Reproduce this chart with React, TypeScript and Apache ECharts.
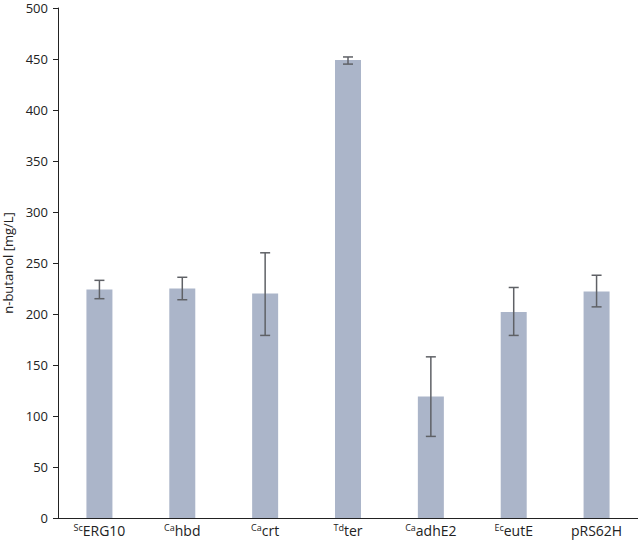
import React, { useEffect, useRef } from "react";
import * as echarts from "echarts";

const prefixes = ["Sc", "Ca", "Ca", "Td", "Ca", "Ec", ""];
const names = ["ERG10", "hbd", "crt", "ter", "adhE2", "eutE", "pRS62H"];
const values = [224, 225, 220, 449, 119, 202, 222];
const errLow = [215, 214, 179, 445, 80, 179, 207];
const errHigh = [233, 236, 260, 452, 158, 226, 238];
const yTicks = { min: 0, max: 500, interval: 50 };

const FONT = "'Open Sans', 'Liberation Sans', sans-serif";

export default function App() {
  const ref = useRef<HTMLDivElement>(null);
  useEffect(() => {
    if (!ref.current) return;
    const chart = echarts.init(ref.current, undefined, { renderer: "svg" });
    const cats = names.map((n, i) => `${prefixes[i]}|${n}`);
    chart.setOption({
      animation: false,
      grid: { left: 58, right: 0, top: 8, bottom: 26, containLabel: false, outerBoundsMode: "none" },
      xAxis: {
        type: "category",
        data: cats,
        axisLine: { lineStyle: { color: "#222", width: 1 } },
        axisTick: { show: false },
        axisLabel: {
          margin: 5,
          interval: 0,
          formatter: (v: string) => {
            const [p, n] = v.split("|");
            return p ? `{sup|${p}}{base|${n}}` : `{base|${n}}`;
          },
          rich: {
            base: { fontFamily: FONT, fontSize: 14, color: "#222", lineHeight: 15 },
            sup: { fontFamily: FONT, fontSize: 9, color: "#222", lineHeight: 15, verticalAlign: "top" },
          },
        },
      },
      yAxis: {
        type: "value",
        min: yTicks.min,
        max: yTicks.max,
        interval: yTicks.interval,
        name: "n-butanol [mg/L]",
        nameLocation: "middle",
        nameRotate: 90,
        nameGap: 32,
        nameTextStyle: { fontFamily: FONT, fontSize: 13, lineHeight: 14, color: "#222" },
        axisLine: { show: true, lineStyle: { color: "#222", width: 1 } },
        axisTick: { show: true, inside: false, length: 5, lineStyle: { color: "#222" } },
        axisLabel: { margin: 10, fontFamily: FONT, fontSize: 13, lineHeight: 12, color: "#222" },
        splitLine: { show: false },
      },
      series: [
        {
          type: "bar",
          data: values,
          barWidth: 26,
          itemStyle: { color: "#abb5c9" },
        },
        {
          type: "custom",
          data: values.map((_, i) => [i, errLow[i], errHigh[i]]),
          z: 10,
          renderItem: (params: any, api: any) => {
            const x = api.value(0);
            const lo = api.coord([x, api.value(1)]);
            const hi = api.coord([x, api.value(2)]);
            const hw = 5;
            const style = { stroke: "#5f6166", lineWidth: 1.5 };
            return {
              type: "group",
              children: [
                { type: "line", shape: { x1: lo[0], y1: lo[1], x2: hi[0], y2: hi[1] }, style },
                { type: "line", shape: { x1: hi[0] - hw, y1: hi[1], x2: hi[0] + hw, y2: hi[1] }, style },
                { type: "line", shape: { x1: lo[0] - hw, y1: lo[1], x2: lo[0] + hw, y2: lo[1] }, style },
              ],
            };
          },
        },
      ],
    });
    return () => chart.dispose();
  }, []);
  return <div ref={ref} style={{ width: 638, height: 544, position: "absolute", left: 0, top: 0, background: "#fff" }} />;
}
